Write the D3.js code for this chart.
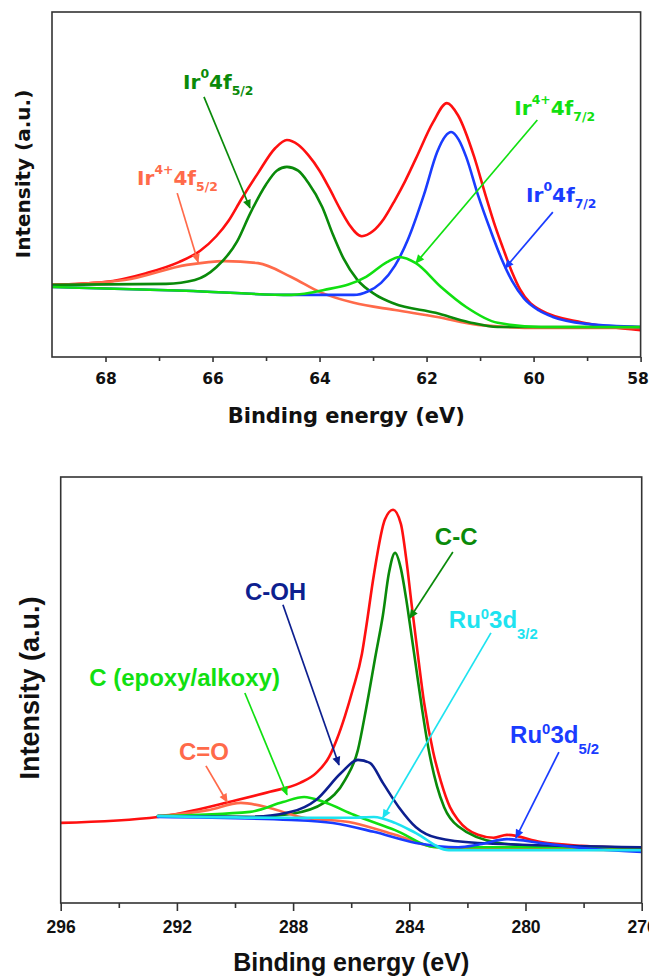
<!DOCTYPE html>
<html><head><meta charset="utf-8">
<script src="https://cdn.jsdelivr.net/npm/d3@7"></script>
<style>html,body{margin:0;padding:0;background:#fff;} svg{display:block;}</style>
</head><body>
<svg id="chart" width="649" height="977"></svg>
<script>
// ---------------- DATA: Ir 4f panel (top) ----------------
const irTicks = [68, 66, 64, 62, 60, 58];
const irMinorTicks = [67, 65, 63, 61, 59];
const irEnvelopeE = [69.0, 68.03, 67.24, 66.63, 66.23, 65.93, 65.70, 65.47, 65.15, 64.83, 64.61, 64.40, 64.21, 64.00, 63.82, 63.62, 63.45, 63.21, 63.00, 62.80, 62.59, 62.40, 62.20, 61.88, 61.62, 61.41, 61.11, 60.90, 60.72, 60.57, 60.40, 60.25, 59.86, 59.09, 58.0];
const irEnvelopeI = [20.9, 21.7, 24.3, 27.5, 30.8, 35.0, 39.5, 45.5, 53.3, 60.5, 62.9, 61.5, 58.5, 54.0, 49.0, 43.0, 38.5, 35.0, 36.5, 40.0, 45.5, 51.0, 57.5, 68.0, 73.6, 70.0, 58.0, 47.0, 38.0, 31.5, 24.5, 19.5, 13.5, 10.0, 7.8];
const ir0f72E = [69.0, 66.5, 64.53, 63.36, 63.10, 62.85, 62.59, 62.35, 62.05, 61.80, 61.65, 61.54, 61.40, 61.26, 61.04, 60.80, 60.60, 60.40, 60.18, 59.90, 59.64, 59.0, 58.0];
const ir0f72I = [20.3, 19.2, 18.0, 18.0, 19.0, 21.5, 26.5, 34.0, 47.0, 59.5, 64.0, 65.2, 63.0, 58.0, 47.0, 36.5, 28.5, 22.0, 17.0, 13.5, 11.6, 9.6, 8.7];
const ir0f52E = [69.0, 66.87, 66.33, 65.93, 65.54, 65.30, 65.00, 64.80, 64.61, 64.40, 64.21, 63.95, 63.75, 63.55, 63.30, 62.95, 62.61, 61.83, 61.21, 60.67, 58.0];
const ir0f52I = [20.9, 21.2, 22.3, 26.0, 33.5, 41.5, 50.0, 54.0, 55.1, 54.0, 50.5, 43.5, 35.5, 28.5, 22.5, 18.0, 15.5, 12.8, 10.1, 8.7, 8.7];
const ir4f72E = [69.0, 66.5, 64.53, 63.92, 63.13, 62.74, 62.51, 62.20, 61.73, 61.26, 60.67, 59.86, 58.0];
const ir4f72I = [20.3, 19.2, 18.0, 19.4, 23.2, 27.5, 29.0, 27.2, 20.3, 14.5, 9.9, 8.7, 8.7];
const ir4f52E = [69.0, 67.64, 66.48, 65.77, 65.15, 64.53, 63.99, 63.36, 62.59, 61.80, 61.04, 59.86, 58.0];
const ir4f52I = [20.9, 22.3, 26.7, 27.8, 27.2, 23.2, 18.8, 15.7, 13.6, 11.6, 9.3, 8.4, 8.4];

// ---------------- DATA: C 1s / Ru 3d panel (bottom) ----------------
const cTicks = [296, 292, 288, 284, 280, 276];
const cMinorTicks = [294, 290, 286, 282, 278];
const cEnvelopeE = [296.0, 292.65, 291.65, 290.21, 288.80, 287.76, 287.21, 286.76, 286.49, 286.21, 285.95, 285.63, 285.49, 285.22, 284.84, 284.56, 284.29, 284.11, 283.91, 283.70, 283.49, 283.18, 282.91, 282.60, 282.32, 281.64, 281.10, 280.64, 279.47, 278.06, 276.0];
const cEnvelopeI = [18.8, 20.2, 21.4, 23.7, 26.1, 28.2, 30.5, 34.3, 38.5, 44.0, 50.0, 58.5, 64.5, 77.0, 90.0, 92.3, 89.0, 81.0, 69.5, 58.0, 47.0, 35.5, 28.5, 22.5, 19.5, 16.0, 15.3, 16.0, 14.3, 13.4, 12.9];
const ccE = [292.65, 289.48, 288.07, 286.94, 286.21, 285.77, 285.49, 285.15, 284.91, 284.70, 284.49, 284.29, 284.11, 283.98, 283.77, 283.56, 283.36, 283.05, 282.80, 282.32, 280.91, 278.74, 276.0];
const ccI = [20.4, 20.2, 20.9, 23.5, 28.9, 35.9, 45.5, 58.5, 67.5, 77.5, 82.2, 78.5, 71.5, 65.5, 55.5, 45.5, 37.0, 27.5, 22.5, 18.0, 14.1, 13.1, 13.1];
const cohE = [292.65, 289.48, 288.07, 287.21, 286.35, 285.77, 285.36, 284.91, 284.36, 283.77, 283.05, 281.64, 276.0];
const cohI = [20.4, 20.2, 21.4, 24.2, 30.5, 33.6, 32.9, 28.2, 22.5, 17.8, 15.3, 14.1, 13.1];
const epoxyE = [292.65, 289.48, 288.35, 287.62, 286.94, 285.91, 284.49, 283.05, 276.0];
const epoxyI = [20.4, 21.4, 23.7, 24.9, 23.7, 20.7, 17.1, 13.1, 13.1];
const coE = [292.65, 290.93, 289.80, 288.80, 287.76, 285.91, 284.49, 283.05, 276.0];
const coI = [20.4, 21.8, 23.5, 22.3, 20.2, 18.8, 16.0, 13.1, 12.4];
const ru32E = [292.65, 288.07, 286.04, 285.22, 284.49, 283.77, 282.64, 276.0];
const ru32I = [20.4, 20.0, 20.0, 20.2, 18.8, 16.4, 12.4, 12.4];
const ru52E = [292.65, 288.07, 286.63, 285.22, 283.77, 282.32, 281.56, 280.64, 279.47, 278.06, 276.0];
const ru52I = [20.2, 19.5, 18.8, 16.7, 14.1, 13.1, 13.8, 15.0, 14.1, 12.9, 12.0];

// annotation labels (text parts) and their anchors / arrow ends in data units
const irLabels = [
  {parts: [["Ir", ""], ["0", "sup"], ["4f", ""], ["5/2", "sub"]], color: "#0a8a0a", at: [66.55, 77.7], arrow: [66.16, 75.4, 65.30, 43.2]},
  {parts: [["Ir", ""], ["4+", "sup"], ["4f", ""], ["5/2", "sub"]], color: "#ff6a4a", at: [67.41, 49.9], arrow: [66.66, 47.5, 66.27, 27.5]},
  {parts: [["Ir", ""], ["4+", "sup"], ["4f", ""], ["7/2", "sub"]], color: "#11e011", at: [60.36, 70.1], arrow: [59.93, 68.7, 62.20, 27.2]},
  {parts: [["Ir", ""], ["0", "sup"], ["4f", ""], ["7/2", "sub"]], color: "#1a3cff", at: [60.14, 44.9], arrow: [59.64, 42.0, 60.53, 25.8]}
];
const cLabels = [
  {parts: [["C-C", ""]], color: "#0a8a0a", at: [283.12, 84.0], arrow: [282.50, 82.4, 283.98, 66.9]},
  {parts: [["C-OH", ""]], color: "#0d1f8f", at: [289.66, 71.1], arrow: [288.35, 70.0, 286.42, 32.4]},
  {parts: [["Ru", ""], ["0", "sup"], ["3d", ""], ["3/2", "sub"]], color: "#1ee3f0", at: [282.64, 64.6], arrow: [281.19, 63.4, 284.91, 20.0]},
  {parts: [["C (epoxy/alkoxy)", ""]], color: "#11e011", at: [295.02, 50.9], arrow: [289.66, 49.3, 288.21, 25.4]},
  {parts: [["C=O", ""]], color: "#ff6a4a", at: [291.93, 33.6], arrow: [291.0, 32.2, 290.27, 23.7]},
  {parts: [["Ru", ""], ["0", "sup"], ["3d", ""], ["5/2", "sub"]], color: "#1a3cff", at: [280.53, 37.6], arrow: [278.85, 35.4, 280.33, 15.3]}
];

// ---------------- DRAWING ----------------
const svg = d3.select("#chart");
const defs = svg.append("defs");
const markerIds = {};
function marker(color) {
  if (markerIds[color]) return markerIds[color];
  const id = "arr" + Object.keys(markerIds).length;
  defs.append("marker").attr("id", id).attr("viewBox", "0 0 10 10")
    .attr("refX", 9).attr("refY", 5).attr("markerWidth", 11).attr("markerHeight", 9)
    .attr("markerUnits", "userSpaceOnUse").attr("orient", "auto")
    .append("path").attr("d", "M0,0.5 L10,5 L0,9.5 Z").attr("fill", color);
  markerIds[color] = "url(#" + id + ")";
  return markerIds[color];
}

function panel(cfg) {
  const x = d3.scaleLinear().domain(cfg.xDomain).range([cfg.left, cfg.right]);
  const y = d3.scaleLinear().domain([0, 100]).range([cfg.bottom, cfg.top]);
  const g = svg.append("g");
  const clipId = "clip" + cfg.id;
  defs.append("clipPath").attr("id", clipId).append("rect")
    .attr("x", cfg.left).attr("y", cfg.top).attr("width", cfg.right - cfg.left).attr("height", cfg.bottom - cfg.top);

  const line = d3.line().x(d => x(d[0])).y(d => y(d[1])).curve(d3.curveMonotoneX);
  const plot = g.append("g").attr("clip-path", "url(#" + clipId + ")");
  cfg.series.forEach(s => {
    plot.append("path").datum(s.E.map((e, i) => [e, s.I[i]]))
      .attr("d", line).attr("fill", "none").attr("stroke", s.color)
      .attr("stroke-width", 2.6).attr("stroke-linejoin", "round").attr("stroke-linecap", "round");
  });

  // axes
  const axMinor = d3.axisBottom(x).tickValues(cfg.minor).tickSize(cfg.minorSize).tickFormat("");
  const axMajor = d3.axisBottom(x).tickValues(cfg.major).tickSize(cfg.majorSize)
    .tickPadding(cfg.pad).tickFormat(d3.format("d"));
  const gm = g.append("g").attr("transform", `translate(0,${cfg.bottom})`).call(axMinor);
  const gM = g.append("g").attr("transform", `translate(0,${cfg.bottom})`).call(axMajor);
  [gm, gM].forEach(a => {
    a.select(".domain").remove();
    a.selectAll("line").attr("stroke", "#333").attr("stroke-width", 1.6);
  });
  gM.selectAll("text").attr("fill", "#111").attr("font-family", cfg.font)
    .attr("font-weight", "bold").attr("font-size", cfg.tickFont);
  if (cfg.lastDx) gM.selectAll("text").filter(d => d === cfg.major[cfg.major.length - 1]).attr("dx", cfg.lastDx);

  g.append("rect").attr("x", cfg.left).attr("y", cfg.top)
    .attr("width", cfg.right - cfg.left).attr("height", cfg.bottom - cfg.top)
    .attr("fill", "none").attr("stroke", "#333").attr("stroke-width", 1.6);

  // titles
  g.append("text").attr("x", (cfg.left + cfg.right) / 2).attr("y", cfg.titleY)
    .attr("text-anchor", "middle").attr("font-family", cfg.font).attr("font-weight", "bold")
    .attr("font-size", cfg.titleFont).attr("fill", "#111").text("Binding energy (eV)");
  g.append("text").attr("transform", `translate(${cfg.ylabX},${cfg.ylabY}) rotate(-90)`)
    .attr("text-anchor", "middle").attr("font-family", cfg.font).attr("font-weight", "bold")
    .attr("font-size", cfg.ylabFont).attr("fill", "#111").text("Intensity (a.u.)");

  // annotations
  cfg.labels.forEach(l => {
    const a = l.arrow;
    g.append("line").attr("x1", x(a[0])).attr("y1", y(a[1])).attr("x2", x(a[2])).attr("y2", y(a[3]))
      .attr("stroke", l.color).attr("stroke-width", 1.7).attr("marker-end", marker(l.color));
    const t = g.append("text").attr("x", x(l.at[0])).attr("y", y(l.at[1]))
      .attr("font-family", cfg.labFamily || cfg.font).attr("font-weight", "bold").attr("fill", l.color)
      .attr("font-size", cfg.labFont);
    let cur = 0;
    l.parts.forEach(p => {
      let target = 0, fs = cfg.labFont;
      if (p[1] === "sup") { target = -cfg.supShift; fs = cfg.labFont * 0.62; }
      if (p[1] === "sub") { target = cfg.subShift; fs = cfg.labFont * 0.62; }
      t.append("tspan").attr("dy", target - cur).attr("font-size", fs).text(p[0]);
      cur = target;
    });
  });
}

panel({
  id: "top", xDomain: [69, 58], left: 52, right: 640.6, top: 12, bottom: 357,
  major: irTicks, minor: irMinorTicks, majorSize: 5, minorSize: 4, pad: 10.5, lastDx: -3,
  font: "DejaVu Sans", tickFont: 15.5, titleFont: 21, titleY: 423, ylabFont: 20, ylabX: 30, ylabY: 174,
  labFont: 20, supShift: 11, subShift: 6,
  series: [
    {E: irEnvelopeE, I: irEnvelopeI, color: "#ff1010"},
    {E: ir4f52E, I: ir4f52I, color: "#ff6a4a"},
    {E: ir0f52E, I: ir0f52I, color: "#0a8a0a"},
    {E: ir0f72E, I: ir0f72I, color: "#1a3cff"},
    {E: ir4f72E, I: ir4f72I, color: "#11e011"}
  ],
  labels: irLabels
});

panel({
  id: "bot", xDomain: [296, 276], left: 60.7, right: 641.7, top: 477, bottom: 903,
  major: cTicks, minor: cMinorTicks, majorSize: 8, minorSize: 5, pad: 10,
  font: "'Liberation Sans', Arial, sans-serif", tickFont: 17.5, titleFont: 25, titleY: 971, ylabFont: 27, ylabX: 39, ylabY: 688,
  labFont: 24, supShift: 9, subShift: 11,
  series: [
    {E: cEnvelopeE, I: cEnvelopeI, color: "#ff1010"},
    {E: ccE, I: ccI, color: "#0a8a0a"},
    {E: coE, I: coI, color: "#ff6a4a"},
    {E: epoxyE, I: epoxyI, color: "#11e011"},
    {E: cohE, I: cohI, color: "#0d1f8f"},
    {E: ru52E, I: ru52I, color: "#1a3cff"},
    {E: ru32E, I: ru32I, color: "#1ee3f0"}
  ],
  labels: cLabels
});
</script>
</body></html>
